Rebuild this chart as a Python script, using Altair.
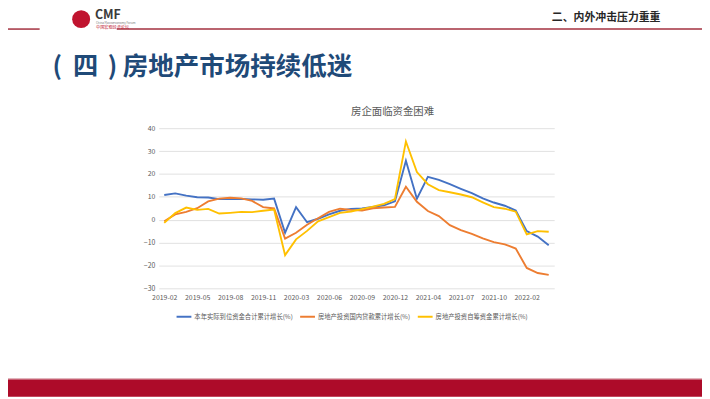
import altair as alt
import pandas as pd

categories = (
    [f"2019-{m:02d}" for m in range(2, 13)]
    + [f"2020-{m:02d}" for m in range(2, 13)]
    + [f"2021-{m:02d}" for m in range(2, 13)]
    + ["2022-02", "2022-03", "2022-04"]
)
tick_labels = ["2019-02", "2019-05", "2019-08", "2019-11", "2020-03", "2020-06",
               "2020-09", "2020-12", "2021-04", "2021-07", "2021-10", "2022-02"]

series_names = ["本年实际到位资金合计累计增长(%)", "房地产投资国内贷款累计增长(%)", "房地产投资自筹资金累计增长(%)"]
series_colors = ["#4472C4", "#ED7D31", "#FFC000"]

funds_total = [10.8, 11.5, 10.5, 9.8, 9.7, 9.0, 9.0, 9.1, 8.9, 8.7, 9.2,
               -5.7, 5.5, -1.1, 0.4, 2.3, 3.9, 4.7, 4.9, 5.6, 6.3, 8.0,
               25.8, 9.2, 18.7, 17.4, 15.5, 13.5, 11.6, 9.3, 7.5, 6.1, 4.0,
               -5.0, -7.4, -11.2]
domestic_loans = [-0.7, 2.3, 3.4, 5.0, 8.0, 9.2, 9.6, 9.3, 8.2, 5.5, 4.9,
                  -8.3, -5.7, -2.2, 0.6, 3.4, 4.8, 4.3, 4.0, 5.0, 5.3, 5.6,
                  14.4, 7.8, 3.8, 1.6, -2.4, -4.6, -6.2, -8.2, -9.8, -10.8, -12.6,
                  -21.1, -23.3, -24.1]
self_raised = [-1.4, 2.9, 5.3, 4.3, 4.7, 2.7, 3.0, 3.4, 3.3, 3.9, 4.4,
               -15.5, -8.6, -4.9, -0.7, 1.1, 3.0, 3.6, 4.6, 5.7, 6.9, 9.0,
               34.2, 20.8, 15.5, 12.9, 12.0, 11.0, 9.8, 7.6, 5.5, 4.8, 3.5,
               -6.4, -5.0, -5.3]

rows = []
for name, vals in zip(series_names, [funds_total, domestic_loans, self_raised]):
    for c, v in zip(categories, vals):
        rows.append({"date": c, "value": v, "series": name})
df = pd.DataFrame(rows)

FONT = "Noto Sans CJK SC"
W, H = 400, 162
OX, OY = 160.5, 127.3  # page position of plot origin


def px(x):
    return x - OX


def py(y):
    return y - OY


one = pd.DataFrame({"a": [0]})

lines = alt.Chart(df).mark_line(strokeWidth=1.9).encode(
    x=alt.X("date:O", sort=categories, title=None,
            scale=alt.Scale(type="point", padding=0.5),
            axis=alt.Axis(values=tick_labels, labelAngle=0, ticks=False, domain=False,
                          grid=False, labelFontSize=7, labelColor="#595959",
                          labelFont=FONT, labelPadding=5)),
    y=alt.Y("value:Q", title=None,
            scale=alt.Scale(domain=[-30, 40], nice=False, zero=False),
            axis=alt.Axis(values=list(range(-30, 41, 10)), ticks=False, domain=False,
                          gridColor="#d9d9d9", gridWidth=0.8, labelFontSize=7,
                          labelColor="#595959", labelFont=FONT, labelPadding=4)),
    color=alt.Color("series:N", sort=series_names, title=None,
                    scale=alt.Scale(domain=series_names, range=series_colors),
                    legend=alt.Legend(orient="none", legendX=17, legendY=182,
                                      direction="horizontal", symbolType="stroke",
                                      symbolSize=225, symbolStrokeWidth=2,
                                      labelFontSize=6.4, labelFont=FONT,
                                      labelColor="#595959", labelOffset=2,
                                      columnPadding=3, labelLimit=200)),
    order=alt.Order("date:O"),
)


def rect(x1, x2, y1, y2, color):
    return alt.Chart(one).mark_rect(color=color).encode(
        x=alt.value(px(x1)), x2=alt.value(px(x2)),
        y=alt.value(py(y1)), y2=alt.value(py(y2)))


def text(x, y, s, size, color, weight="normal", align="left"):
    return alt.Chart(one).mark_text(fontSize=size, color=color, fontWeight=weight,
                                    font=FONT, align=align, baseline="middle").encode(
        x=alt.value(px(x)), y=alt.value(py(y)), text=alt.value(s))


header_line1 = rect(8, 40, 26.3, 27.8, "#a3303f")
header_line2 = rect(118, 710, 26.3, 27.8, "#a3303f")
logo = alt.Chart(one).mark_point(filled=True, shape="circle", size=330,
                                 color="#c0142f", opacity=1).encode(
    x=alt.value(px(82)), y=alt.value(py(17)))
cmf = text(96, 13, "CMF", 12.5, "#3a3a3a", "bold")
cmf_en = text(97, 21, "China Macroeconomy Forum", 3, "#777777")
cmf_cn = text(97, 25.6, "中国宏观经济论坛", 4.2, "#c0142f")
section = text(668, 15.5, "二、内外冲击压力重重", 11, "#262626", "bold", "right")
title_l = text(53, 66, "(", 25.5, "#1f4a78", "bold")
title_n = text(86.5, 66, "四", 25.5, "#1f4a78", "bold", "center")
title_r = text(109, 66, ")", 25.5, "#1f4a78", "bold")
title = text(124, 66, "房地产市场持续低迷", 25.8, "#1f4a78", "bold")
chart_title = text(355, 110.5, "房企面临资金困难", 10.5, "#595959")
band_line = rect(8, 710, 380.5, 381.5, "#c46a7a")
band = rect(8, 710, 381.5, 399, "#ad0b29")

chart = alt.layer(
    header_line1, header_line2, logo, cmf, cmf_en, cmf_cn, section,
    title_l, title_n, title_r, title,
    chart_title, band_line, band, lines
).properties(
    width=W, height=H,
    padding={"left": 152.5, "top": 119.3, "right": 149.5, "bottom": 109.7},
    autosize=alt.AutoSizeParams(type="none"),
    background="white",
).configure_view(stroke=None)

chart.save("out.html", embed_options={"renderer": "svg", "actions": False})
